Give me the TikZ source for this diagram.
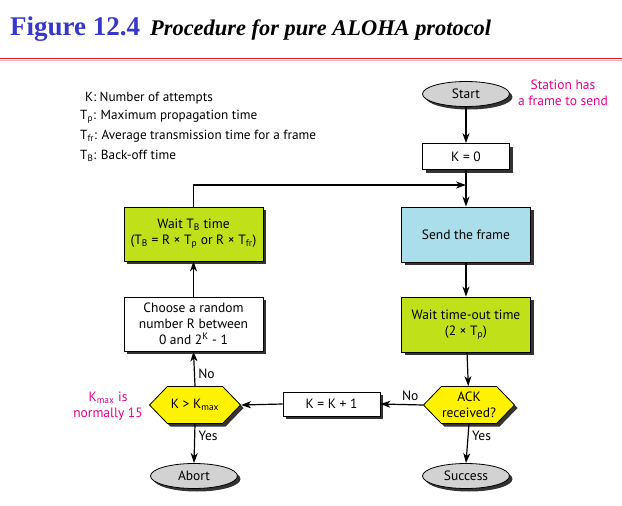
\documentclass[tikz,border=0pt]{standalone}
\usepackage{fontspec}
\setmainfont{PT Sans}
\newfontfamily\titlefont{Liberation Serif}
\usetikzlibrary{arrows.meta,shapes.geometric,shapes.symbols,shadows}
\definecolor{figblue}{RGB}{55,55,205}
\definecolor{figred}{RGB}{225,30,30}
\definecolor{notepink}{RGB}{236,0,140}
\definecolor{sendblue}{RGB}{170,222,235}
\definecolor{waitgreen}{RGB}{192,224,26}
\definecolor{testyellow}{RGB}{255,242,0}
\definecolor{endgray}{RGB}{210,210,210}

\begin{document}
\begin{tikzpicture}[x=1pt, y=-1pt, every node/.style={font=\fontsize{13.5}{16}\selectfont},
	shade3/.style={drop shadow={shadow xshift=3pt, shadow yshift=-3pt, opacity=1, fill=black!80}},
	box/.style={draw, line width=0.8pt, fill=white, shade3, align=center, inner sep=1pt},
	terminal/.style={ellipse, draw, line width=0.8pt, fill=endgray, shade3, minimum width=87pt, minimum height=25pt, inner sep=0pt},
	test/.style={signal, signal to=east and west, signal pointer angle=92, draw, line width=0.8pt, fill=testyellow, shade3, minimum width=91pt, minimum height=37pt, inner sep=0pt, align=center},
	key/.style={anchor=west, inner sep=0pt, font=\fontsize{13.2}{15}\selectfont},
	note/.style={text=notepink, align=center, inner sep=0pt},
	flow/.style={line width=1.2pt, -{Stealth[length=10pt, width=7pt, inset=3pt]}}]
	\useasboundingbox[fill=white] (0,0) rectangle (622,506);
	\node[anchor=base west, inner sep=0pt, text=figblue, font=\titlefont\bfseries\fontsize{27}{30}\selectfont] (fignum) at (10,35) {Figure 12.4};
	\node[anchor=base west, inner sep=0pt, font=\titlefont\bfseries\itshape\fontsize{22.4}{26}\selectfont] (figtitle) at (150,35) {Procedure for pure ALOHA protocol};
	\draw[figred, line width=1.4pt] (0,58.5) -- (622,58.5);
	\draw[figred!35, line width=0.8pt] (0,60.5) -- (622,60.5);

	\node[key] (keyk) at (85,98) {K: Number of attempts};
	\node[key] (keyp) at (80,117) {T\textsubscript{p}: Maximum propagation time};
	\node[key] (keyfr) at (80,136) {T\textsubscript{fr}: Average transmission time for a frame};
	\node[key] (keyb) at (80,156) {T\textsubscript{B}: Back-off time};

	\node[terminal] (start) at (466,94) {Start};
	\node[note] (station) at (563,93) {Station has\\a frame to send};
	\node[box, minimum width=87pt, minimum height=26pt] (kzero) at (466,156.5) {K = 0};
	\node[box, fill=sendblue, minimum width=129pt, minimum height=55pt] (send) at (466,234.5) {Send the frame};
	\node[box, fill=waitgreen, minimum width=129pt, minimum height=55pt] (timeout) at (466,324.5) {Wait time-out time\\(2 × T\textsubscript{p})};
	\node[test] (ack) at (469,405) {ACK\\received?};
	\node[terminal] (success) at (466,476) {Success};
	\node[box, minimum width=97pt, minimum height=24pt] (kinc) at (331.5,404) {K = K + 1};
	\node[test] (kmax) at (195,405) {K > K\textsubscript{max}};
	\node[note] (kmaxnote) at (108,406) {K\textsubscript{max} is\\normally 15};
	\node[terminal] (abort) at (194,476) {Abort};
	\node[box, minimum width=139pt, minimum height=54pt] (choose) at (193.5,324) {Choose a random\\number R between\\0 and 2\textsuperscript{K} - 1};
	\node[box, fill=waitgreen, minimum width=139pt, minimum height=54pt] (backoff) at (193.5,234) {Wait T\textsubscript{B} time\\(T\textsubscript{B} = R × T\textsubscript{p} or R × T\textsubscript{fr})};
	\coordinate (merge) at (466,185);

	\draw[flow] (start) -- (kzero);
	\draw[flow] (kzero) -- (send);
	\draw[flow] (backoff.north) |- (merge);
	\draw[flow] (send) -- (timeout);
	\draw[flow] (timeout) -- (ack);
	\draw[flow] (ack.west) -- node[above, pos=0.3] {No} (kinc.east);
	\draw[flow] (ack.south) -- node[right, pos=0.3] {Yes} (success.north);
	\draw[flow] (kinc.west) -- (kmax.east);
	\draw[flow] (kmax.north) -- node[right, pos=0.35] {No} (choose.south);
	\draw[flow] (kmax.south) -- node[right, pos=0.3] {Yes} (abort.north);
	\draw[flow] (choose) -- (backoff);
\end{tikzpicture}
\end{document}
